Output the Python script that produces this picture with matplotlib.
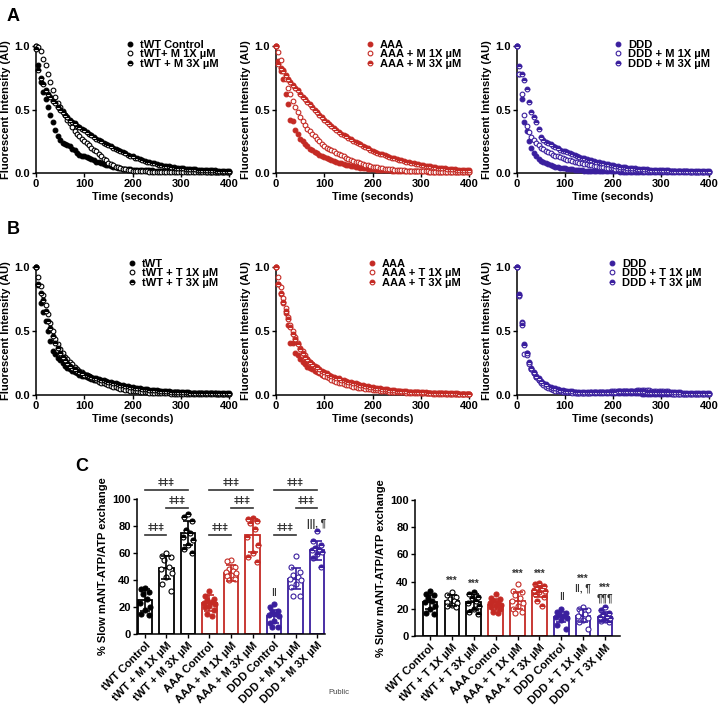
import numpy as np
import matplotlib
matplotlib.use('Agg')
import matplotlib.pyplot as plt
from matplotlib.lines import Line2D

plt.rcParams['font.family'] = ['Liberation Sans', 'DejaVu Sans']
plt.rcParams['font.weight'] = 'bold'
plt.rcParams['axes.labelweight'] = 'bold'

# ---------------- time courses (sampled every 5 s, 0..400 s) ----------------
time_s = np.arange(0, 401, 5)

A_tWT_ctrl = [1.00,0.85,0.72,0.64,0.58,0.52,0.46,0.40,0.34,0.29,
0.26,0.24,0.23,0.22,0.21,0.19,0.18,0.16,0.14,0.13,
0.13,0.125,0.12,0.11,0.10,0.09,0.085,0.08,0.07,0.065,
0.06,0.055,0.05,0.045,0.04,0.038,0.035,0.033,0.03,0.028,
0.027,0.026,0.025,0.024,0.023,0.022,0.021,0.02,0.02,0.019,
0.018,0.018,0.017,0.017,0.016,0.016,0.015,0.015,0.015,0.014,
0.014,0.014,0.013,0.013,0.013,0.013,0.012,0.012,0.012,0.012,
0.012,0.011,0.011,0.011,0.011,0.011,0.010,0.010,0.010,0.010,
0.010]
A_tWT_1x = [1.00,0.99,0.96,0.90,0.85,0.78,0.72,0.65,0.60,0.55,
0.52,0.49,0.46,0.42,0.39,0.36,0.33,0.31,0.29,0.27,
0.25,0.24,0.22,0.20,0.18,0.17,0.15,0.13,0.11,0.10,
0.08,0.07,0.06,0.05,0.045,0.04,0.035,0.03,0.025,0.02,
0.018,0.016,0.015,0.014,0.013,0.012,0.012,0.011,0.011,0.010,
0.010,0.010,0.009,0.009,0.009,0.009,0.008,0.008,0.008,0.008,
0.008,0.007,0.007,0.007,0.007,0.007,0.007,0.006,0.006,0.006,
0.006,0.006,0.006,0.006,0.005,0.005,0.005,0.005,0.005,0.005,
0.005]
A_tWT_3x = [0.98,0.81,0.75,0.70,0.65,0.62,0.60,0.57,0.55,0.52,
0.50,0.48,0.46,0.44,0.42,0.40,0.39,0.37,0.36,0.35,
0.34,0.32,0.31,0.30,0.28,0.27,0.26,0.25,0.24,0.23,
0.22,0.21,0.20,0.19,0.18,0.17,0.165,0.155,0.145,0.135,
0.13,0.12,0.115,0.11,0.10,0.095,0.09,0.085,0.08,0.075,
0.07,0.066,0.062,0.058,0.055,0.052,0.049,0.046,0.043,0.041,
0.039,0.037,0.035,0.033,0.031,0.030,0.028,0.027,0.026,0.025,
0.024,0.023,0.022,0.021,0.020,0.019,0.018,0.018,0.017,0.016,
0.016]

A_AAA_ctrl = [1.00,0.88,0.80,0.74,0.62,0.54,0.42,0.41,0.34,0.31,
0.27,0.25,0.23,0.21,0.19,0.18,0.165,0.155,0.145,0.135,
0.125,0.115,0.107,0.10,0.093,0.087,0.08,0.075,0.07,0.065,
0.06,0.056,0.052,0.048,0.045,0.042,0.039,0.036,0.034,0.032,
0.030,0.028,0.026,0.025,0.024,0.022,0.021,0.020,0.019,0.018,
0.017,0.016,0.016,0.015,0.015,0.014,0.014,0.013,0.013,0.012,
0.012,0.012,0.012,0.011,0.011,0.011,0.011,0.011,0.010,0.010,
0.010,0.010,0.010,0.010,0.010,0.010,0.010,0.010,0.010,0.010,
0.010]
A_AAA_1x = [1.00,0.95,0.89,0.81,0.74,0.67,0.62,0.57,0.52,0.48,
0.44,0.41,0.38,0.35,0.33,0.31,0.29,0.27,0.25,0.23,
0.21,0.20,0.19,0.18,0.17,0.16,0.15,0.14,0.13,0.12,
0.11,0.10,0.095,0.09,0.085,0.08,0.07,0.065,0.06,0.055,
0.05,0.047,0.044,0.041,0.038,0.035,0.033,0.030,0.028,0.026,
0.024,0.022,0.021,0.020,0.019,0.018,0.017,0.016,0.015,0.014,
0.013,0.013,0.012,0.012,0.011,0.011,0.010,0.010,0.010,0.009,
0.009,0.009,0.009,0.009,0.008,0.008,0.008,0.008,0.008,0.008,
0.008]
A_AAA_3x = [1.00,0.86,0.83,0.80,0.77,0.74,0.72,0.69,0.67,0.65,
0.62,0.60,0.58,0.56,0.54,0.52,0.50,0.48,0.46,0.44,
0.42,0.40,0.385,0.37,0.355,0.34,0.325,0.31,0.30,0.29,
0.275,0.265,0.255,0.245,0.235,0.225,0.215,0.205,0.195,0.185,
0.175,0.167,0.16,0.153,0.146,0.14,0.134,0.128,0.122,0.117,
0.112,0.106,0.10,0.095,0.09,0.086,0.082,0.078,0.074,0.07,
0.066,0.062,0.058,0.055,0.052,0.049,0.046,0.043,0.04,0.038,
0.036,0.034,0.032,0.030,0.028,0.026,0.025,0.024,0.023,0.022,
0.021]

A_DDD_ctrl = [1.00,0.78,0.58,0.40,0.33,0.25,0.20,0.16,0.13,0.11,
0.095,0.085,0.075,0.068,0.06,0.055,0.05,0.046,0.042,0.039,
0.036,0.033,0.03,0.028,0.026,0.024,0.022,0.02,0.019,0.018,
0.017,0.016,0.015,0.015,0.014,0.014,0.013,0.013,0.013,0.012,
0.012,0.012,0.012,0.011,0.011,0.011,0.011,0.011,0.011,0.010,
0.010,0.010,0.010,0.010,0.010,0.010,0.010,0.010,0.010,0.010,
0.010,0.010,0.010,0.010,0.010,0.010,0.010,0.010,0.010,0.010,
0.010,0.010,0.010,0.010,0.010,0.010,0.010,0.010,0.010,0.010,
0.010]
A_DDD_1x = [1.00,0.78,0.62,0.46,0.37,0.32,0.28,0.26,0.24,0.22,
0.20,0.19,0.175,0.165,0.155,0.145,0.137,0.13,0.123,0.117,
0.11,0.105,0.10,0.095,0.09,0.085,0.08,0.076,0.072,0.068,
0.064,0.06,0.057,0.054,0.05,0.048,0.045,0.043,0.04,0.038,
0.036,0.034,0.032,0.030,0.029,0.027,0.026,0.025,0.024,0.023,
0.022,0.021,0.020,0.019,0.018,0.018,0.017,0.016,0.016,0.015,
0.015,0.014,0.014,0.014,0.013,0.013,0.013,0.012,0.012,0.012,
0.012,0.012,0.011,0.011,0.011,0.011,0.011,0.011,0.010,0.010,
0.010]
A_DDD_3x = [1.00,0.84,0.78,0.73,0.66,0.56,0.48,0.44,0.40,0.35,
0.28,0.26,0.245,0.235,0.225,0.215,0.205,0.195,0.185,0.177,
0.17,0.162,0.155,0.148,0.141,0.134,0.128,0.122,0.116,0.11,
0.105,0.10,0.095,0.09,0.085,0.08,0.076,0.072,0.068,0.064,
0.06,0.057,0.054,0.051,0.048,0.045,0.043,0.041,0.039,0.037,
0.035,0.033,0.031,0.030,0.028,0.027,0.026,0.025,0.024,0.023,
0.022,0.021,0.021,0.020,0.019,0.019,0.018,0.018,0.017,0.017,
0.016,0.016,0.016,0.015,0.015,0.015,0.014,0.014,0.014,0.013,
0.013]

B_tWT_ctrl = [1.00,0.86,0.72,0.65,0.58,0.50,0.42,0.34,0.32,0.29,
0.27,0.25,0.23,0.21,0.20,0.19,0.18,0.17,0.16,0.15,
0.145,0.14,0.13,0.125,0.12,0.115,0.11,0.105,0.10,0.095,
0.09,0.085,0.08,0.076,0.072,0.068,0.064,0.06,0.057,0.054,
0.051,0.048,0.046,0.043,0.041,0.039,0.037,0.035,0.033,0.031,
0.030,0.028,0.027,0.026,0.025,0.024,0.023,0.022,0.021,0.020,
0.019,0.018,0.018,0.017,0.016,0.016,0.015,0.015,0.014,0.014,
0.013,0.013,0.012,0.012,0.012,0.011,0.011,0.011,0.010,0.010,
0.010]
B_tWT_1x = [1.00,0.92,0.85,0.78,0.70,0.63,0.56,0.50,0.44,0.40,
0.36,0.33,0.30,0.28,0.26,0.24,0.22,0.20,0.19,0.18,
0.165,0.155,0.145,0.135,0.125,0.115,0.105,0.097,0.09,0.083,
0.077,0.071,0.065,0.06,0.055,0.05,0.046,0.042,0.038,0.035,
0.032,0.030,0.028,0.026,0.024,0.022,0.020,0.019,0.018,0.017,
0.016,0.015,0.014,0.013,0.012,0.012,0.011,0.011,0.010,0.010,
0.009,0.009,0.009,0.008,0.008,0.008,0.007,0.007,0.007,0.007,
0.006,0.006,0.006,0.006,0.006,0.005,0.005,0.005,0.005,0.005,
0.005]
B_tWT_3x = [1.00,0.87,0.80,0.74,0.66,0.58,0.52,0.46,0.41,0.37,
0.33,0.30,0.27,0.25,0.23,0.21,0.20,0.19,0.18,0.17,
0.16,0.155,0.15,0.14,0.135,0.13,0.125,0.12,0.115,0.11,
0.105,0.10,0.095,0.09,0.085,0.08,0.076,0.072,0.068,0.064,
0.06,0.057,0.054,0.051,0.048,0.046,0.044,0.042,0.040,0.038,
0.036,0.034,0.032,0.031,0.030,0.028,0.027,0.026,0.025,0.024,
0.023,0.022,0.021,0.020,0.019,0.019,0.018,0.017,0.017,0.016,
0.016,0.015,0.015,0.014,0.014,0.013,0.013,0.013,0.012,0.012,
0.012]

B_AAA_ctrl = [1.00,0.87,0.79,0.72,0.64,0.55,0.41,0.41,0.33,0.31,
0.28,0.26,0.24,0.22,0.21,0.20,0.19,0.18,0.17,0.16,
0.15,0.145,0.14,0.13,0.125,0.12,0.11,0.105,0.10,0.095,
0.09,0.085,0.08,0.076,0.072,0.068,0.064,0.06,0.057,0.054,
0.05,0.048,0.045,0.043,0.041,0.039,0.037,0.035,0.033,0.031,
0.030,0.028,0.027,0.026,0.025,0.024,0.023,0.022,0.021,0.020,
0.019,0.018,0.017,0.016,0.015,0.014,0.014,0.013,0.013,0.012,
0.012,0.011,0.011,0.010,0.010,0.009,0.009,0.009,0.008,0.008,
0.008]
B_AAA_1x = [1.00,0.92,0.84,0.76,0.68,0.61,0.55,0.50,0.45,0.41,
0.37,0.34,0.31,0.28,0.26,0.24,0.22,0.20,0.18,0.165,
0.15,0.14,0.13,0.12,0.11,0.10,0.095,0.09,0.085,0.08,
0.075,0.07,0.066,0.062,0.058,0.055,0.052,0.049,0.046,0.043,
0.04,0.038,0.036,0.034,0.032,0.030,0.028,0.026,0.025,0.024,
0.023,0.022,0.021,0.020,0.019,0.018,0.017,0.016,0.015,0.014,
0.014,0.013,0.013,0.012,0.012,0.011,0.011,0.010,0.010,0.010,
0.009,0.009,0.009,0.009,0.008,0.008,0.008,0.008,0.008,0.008,
0.008]
B_AAA_3x = [1.00,0.87,0.80,0.73,0.66,0.59,0.53,0.48,0.44,0.40,
0.36,0.33,0.30,0.28,0.26,0.245,0.23,0.215,0.20,0.19,
0.18,0.17,0.16,0.15,0.14,0.135,0.13,0.12,0.115,0.11,
0.105,0.10,0.095,0.09,0.085,0.08,0.076,0.072,0.068,0.064,
0.06,0.057,0.054,0.051,0.048,0.045,0.043,0.041,0.039,0.037,
0.035,0.033,0.031,0.030,0.028,0.027,0.026,0.025,0.024,0.023,
0.022,0.021,0.020,0.019,0.018,0.017,0.017,0.016,0.015,0.015,
0.014,0.014,0.013,0.013,0.012,0.012,0.011,0.011,0.011,0.010,
0.010]

B_DDD_ctrl = [1.00,0.79,0.57,0.40,0.33,0.25,0.20,0.17,0.14,0.12,
0.10,0.085,0.075,0.065,0.057,0.05,0.044,0.039,0.035,0.031,
0.028,0.026,0.024,0.022,0.020,0.019,0.018,0.017,0.016,0.015,
0.015,0.014,0.014,0.013,0.013,0.013,0.012,0.012,0.012,0.012,
0.012,0.012,0.012,0.012,0.012,0.012,0.012,0.012,0.012,0.012,
0.012,0.012,0.011,0.011,0.011,0.011,0.011,0.011,0.011,0.011,
0.011,0.011,0.011,0.011,0.010,0.010,0.010,0.010,0.010,0.010,
0.010,0.010,0.010,0.010,0.010,0.010,0.010,0.010,0.010,0.010,
0.010]
B_DDD_1x = [1.00,0.77,0.56,0.32,0.31,0.24,0.20,0.17,0.14,0.115,
0.095,0.08,0.065,0.055,0.046,0.04,0.035,0.031,0.028,0.026,
0.024,0.022,0.020,0.019,0.018,0.017,0.017,0.017,0.018,0.018,
0.019,0.020,0.021,0.022,0.023,0.024,0.025,0.026,0.027,0.028,
0.029,0.030,0.031,0.032,0.033,0.034,0.034,0.035,0.035,0.035,
0.036,0.036,0.036,0.036,0.036,0.036,0.035,0.035,0.035,0.035,
0.035,0.035,0.034,0.034,0.012,0.011,0.011,0.011,0.010,0.010,
0.010,0.010,0.010,0.010,0.009,0.009,0.009,0.009,0.009,0.009,
0.009]
B_DDD_3x = [1.00,0.78,0.55,0.39,0.33,0.26,0.21,0.18,0.15,0.13,
0.11,0.095,0.083,0.073,0.064,0.057,0.051,0.046,0.042,0.038,
0.035,0.032,0.030,0.028,0.026,0.025,0.024,0.023,0.023,0.023,
0.023,0.023,0.023,0.024,0.024,0.025,0.025,0.026,0.026,0.027,
0.027,0.027,0.028,0.028,0.028,0.028,0.028,0.028,0.028,0.028,
0.028,0.028,0.028,0.028,0.027,0.027,0.027,0.027,0.026,0.026,
0.026,0.025,0.025,0.024,0.024,0.023,0.022,0.021,0.020,0.019,
0.018,0.017,0.016,0.015,0.014,0.014,0.013,0.013,0.012,0.012,
0.012]

A_labels = [["tWT Control", "tWT+ M 1X \u00b5M", "tWT + M 3X \u00b5M"],
            ["AAA", "AAA + M 1X \u00b5M", "AAA + M 3X \u00b5M"],
            ["DDD", "DDD + M 1X \u00b5M", "DDD + M 3X \u00b5M"]]
B_labels = [["tWT", "tWT + T 1X \u00b5M", "tWT + T 3X \u00b5M"],
            ["AAA", "AAA + T 1X \u00b5M", "AAA + T 3X \u00b5M"],
            ["DDD", "DDD + T 1X \u00b5M", "DDD + T 3X \u00b5M"]]

# ---------------- panel C ----------------
C_left_labels = ["tWT Control", "tWT + M 1X \u00b5M", "tWT + M 3X \u00b5M",
                 "AAA Control", "AAA + M 1X \u00b5M", "AAA + M 3X \u00b5M",
                 "DDD Control", "DDD + M 1X \u00b5M", "DDD + M 3X \u00b5M"]
C_right_labels = ["tWT Control", "tWT + T 1X \u00b5M", "tWT + T 3X \u00b5M",
                  "AAA Control", "AAA + T 1X \u00b5M", "AAA + T 3X \u00b5M",
                  "DDD Control", "DDD + T 1X \u00b5M", "DDD + T 3X \u00b5M"]
C_left_means = [25, 49, 75, 23, 45, 73, 13, 41, 62]
C_left_sd = [8, 8.5, 9, 6, 6, 12, 5, 8, 7]
C_left_points = [
    [34, 33, 31, 30, 26, 23, 20, 18, 15, 14],
    [60, 58, 57, 55, 50, 48, 45, 42, 37, 32],
    [89, 87, 84, 77, 75, 72, 70, 66, 63, 60],
    [32, 28, 26, 25, 24, 23, 22, 21, 20, 18, 15, 13],
    [55, 54, 50, 48, 47, 46, 45, 44, 43, 41, 40],
    [86, 85, 84, 82, 78, 72, 66, 60, 57, 53],
    [22, 20, 17, 16, 15, 14, 13, 10, 8, 5, 5],
    [58, 50, 46, 44, 42, 41, 40, 37, 35, 28, 28],
    [76, 69, 66, 64, 63, 62, 61, 59, 56, 50],
]
C_right_means = [25, 26, 25, 23, 26, 33, 14, 15, 14]
C_right_sd = [5, 4, 6, 4, 6, 4, 4, 5, 4]
C_right_points = [
    [33, 31, 30, 28, 26, 25, 22, 20, 17, 16],
    [32, 30, 29, 27, 26, 25, 24, 23, 22, 21],
    [32, 31, 29, 28, 26, 24, 22, 20, 18, 16],
    [31, 28, 27, 26, 25, 24, 23, 22, 21, 20, 18, 17],
    [38, 33, 32, 30, 28, 26, 24, 22, 20, 18, 17],
    [39, 38, 37, 36, 35, 34, 33, 32, 31, 29, 26, 22],
    [20, 18, 17, 16, 15, 14, 13, 12, 8, 5],
    [21, 20, 19, 18, 16, 15, 13, 12, 10, 5],
    [21, 19, 17, 16, 15, 14, 13, 12, 11, 10],
]
# significance brackets (left): (start bar, end bar, height, text)
C_left_brackets = [(0, 2, 106.5, "\u01c2\u01c2\u01c2"), (1, 2, 93, "\u01c2\u01c2\u01c2"), (0, 1, 73, "\u01c2\u01c2\u01c2"),
                   (3, 5, 106.5, "\u01c2\u01c2\u01c2"), (4, 5, 93, "\u01c2\u01c2\u01c2"), (3, 4, 73, "\u01c2\u01c2\u01c2"),
                   (6, 8, 106.5, "\u01c2\u01c2\u01c2"), (7, 8, 93, "\u01c2\u01c2\u01c2"), (6, 7, 73, "\u01c2\u01c2\u01c2")]
C_left_marks = [(6, 27, "\u2016"), (8, 78, "|||, \u00b6")]
C_right_marks = [(1, 37, "***"), (2, 34.5, "***"), (4, 42, "***"), (5, 42, "***"),
                 (6, 25, "\u2016"), (7, 38.5, "***"), (7, 31, "\u2016, \u00b6"),
                 (8, 31.5, "***"), (8, 24, "\u00b6\u00b6\u00b6")]

K = '#000000'
R = '#c42a24'
BL = '#3a1f9e'
group_colors = [K, K, K, R, R, R, BL, BL, BL]
group_styles = ['filled', 'open', 'half'] * 3

FS = 8


def mstyle(kind, color, ms):
    d = dict(marker='o', ls='none', ms=ms, mec=color, mew=0.8)
    if kind == 'filled':
        d.update(mfc=color)
    elif kind == 'open':
        d.update(mfc='white')
    else:
        d.update(fillstyle='top', mfc=color, markerfacecoloralt='white')
    return d


def style_axis(ax):
    for s in ['top', 'right']:
        ax.spines[s].set_visible(False)
    for s in ['left', 'bottom']:
        ax.spines[s].set_linewidth(1.1)
    ax.tick_params(direction='out', length=3, width=1.0, labelsize=FS, pad=1.5)
    for lab in ax.get_xticklabels() + ax.get_yticklabels():
        lab.set_fontweight('bold')


def time_panel(ax, series, labels, color, leg_x, leg_y):
    kinds = ['filled', 'open', 'half']
    handles = []
    for ser, kind, lab in zip(series, kinds, labels):
        ax.plot(time_s, ser, clip_on=False, zorder=3, **mstyle(kind, color, 3.4))
        handles.append(Line2D([], [], **mstyle(kind, color, 3.4)))
    ax.set_xlim(0, 400)
    ax.set_ylim(0, 1)
    ax.set_xticks([0, 100, 200, 300, 400])
    ax.set_yticks([0, 0.5, 1.0])
    ax.set_yticklabels(['0.0', '0.5', '1.0'])
    ax.set_xlabel('Time (seconds)', fontsize=FS, fontweight='bold', labelpad=2)
    ax.set_ylabel('Fluorescent Intensity (AU)', fontsize=FS, fontweight='bold', labelpad=2)
    style_axis(ax)
    leg = ax.legend(handles, labels, loc='upper left', bbox_to_anchor=(leg_x, leg_y),
                    frameon=False, fontsize=FS, handlelength=0.6, handletextpad=0.6,
                    labelspacing=-0.05, borderpad=0, borderaxespad=0)
    for t in leg.get_texts():
        t.set_fontweight('bold')


def bar_panel(ax, means, sds, points, labels, xlim):
    offsets = [0, -0.2, 0.2, -0.1, 0.1, -0.24, 0.24]
    for i in range(9):
        c = group_colors[i]
        ax.bar(i, means[i], width=0.66, color='white', edgecolor=c, linewidth=1.3, zorder=1)
        xs = [i + offsets[j % len(offsets)] for j in range(len(points[i]))]
        ax.plot(xs, points[i], zorder=3, clip_on=False, **mstyle(group_styles[i], c, 3.6))
        ax.errorbar(i, means[i], yerr=sds[i], color=c, capsize=3.5, elinewidth=1.2,
                    capthick=1.2, zorder=4, fmt='none')
    ax.set_xlim(*xlim)
    ax.set_ylim(0, 100)
    ax.set_yticks([0, 20, 40, 60, 80, 100])
    ax.set_xticks(range(9))
    ax.set_xticklabels(labels, rotation=45, ha='right', rotation_mode='anchor')
    ax.set_ylabel('% Slow mANT-ATP/ATP exchange', fontsize=FS, fontweight='bold', labelpad=3)
    style_axis(ax)


fig = plt.figure(figsize=(7.19, 7.07), dpi=100)
W, H = 719.0, 707.0

def add_ax(x0, x1, ytop, ybot):
    return fig.add_axes([x0 / W, 1 - ybot / H, (x1 - x0) / W, (ybot - ytop) / H])

A_series = [[A_tWT_ctrl, A_tWT_1x, A_tWT_3x], [A_AAA_ctrl, A_AAA_1x, A_AAA_3x], [A_DDD_ctrl, A_DDD_1x, A_DDD_3x]]
B_series = [[B_tWT_ctrl, B_tWT_1x, B_tWT_3x], [B_AAA_ctrl, B_AAA_1x, B_AAA_3x], [B_DDD_ctrl, B_DDD_1x, B_DDD_3x]]
cols = [K, R, BL]
xpos = [(36, 229), (276, 469), (517, 709)]
legxA = [0.47, 0.47, 0.51]
legxB = [0.48, 0.48, 0.48]
for k in range(3):
    ax = add_ax(xpos[k][0], xpos[k][1], 46, 173)
    time_panel(ax, A_series[k], A_labels[k], cols[k], legxA[k], 1.05)
    ax = add_ax(xpos[k][0], xpos[k][1], 267, 395)
    time_panel(ax, B_series[k], B_labels[k], cols[k], legxB[k], 1.065)

# panel C left
axL = add_ax(137, 325, 499, 634)
bar_panel(axL, C_left_means, C_left_sd, C_left_points, C_left_labels, (-0.37, 8.37))
for a, b, y, txt in C_left_brackets:
    axL.plot([a, b], [y, y], color='#333333', lw=1.2, clip_on=False, zorder=5)
    axL.text((a + b) / 2, y + 1.5, txt, ha='center', va='bottom', fontsize=7,
             color='#333333', clip_on=False)
for i, y, txt in C_left_marks:
    axL.text(i, y, txt, ha='center', va='bottom', fontsize=7, color='#333333', clip_on=False)

# panel C right
axR = add_ax(415, 620, 500, 636)
bar_panel(axR, C_right_means, C_right_sd, C_right_points, C_right_labels, (-0.68, 8.68))
for i, y, txt in C_right_marks:
    axR.text(i, y, txt, ha='center', va='bottom', fontsize=7, color='#333333', clip_on=False)

fig.text(7 / W, 1 - 8 / H, 'A', fontsize=13, fontweight='bold', va='top', ha='left')
fig.text(7 / W, 1 - 221 / H, 'B', fontsize=13, fontweight='bold', va='top', ha='left')
fig.text(75 / W, 1 - 458 / H, 'C', fontsize=13, fontweight='bold', va='top', ha='left')
fig.text(328 / W, 1 - 693 / H, 'Public', fontsize=5.5, fontweight='normal', color='#444444',
         va='center', ha='left')

fig.savefig('out.png', dpi=100)
